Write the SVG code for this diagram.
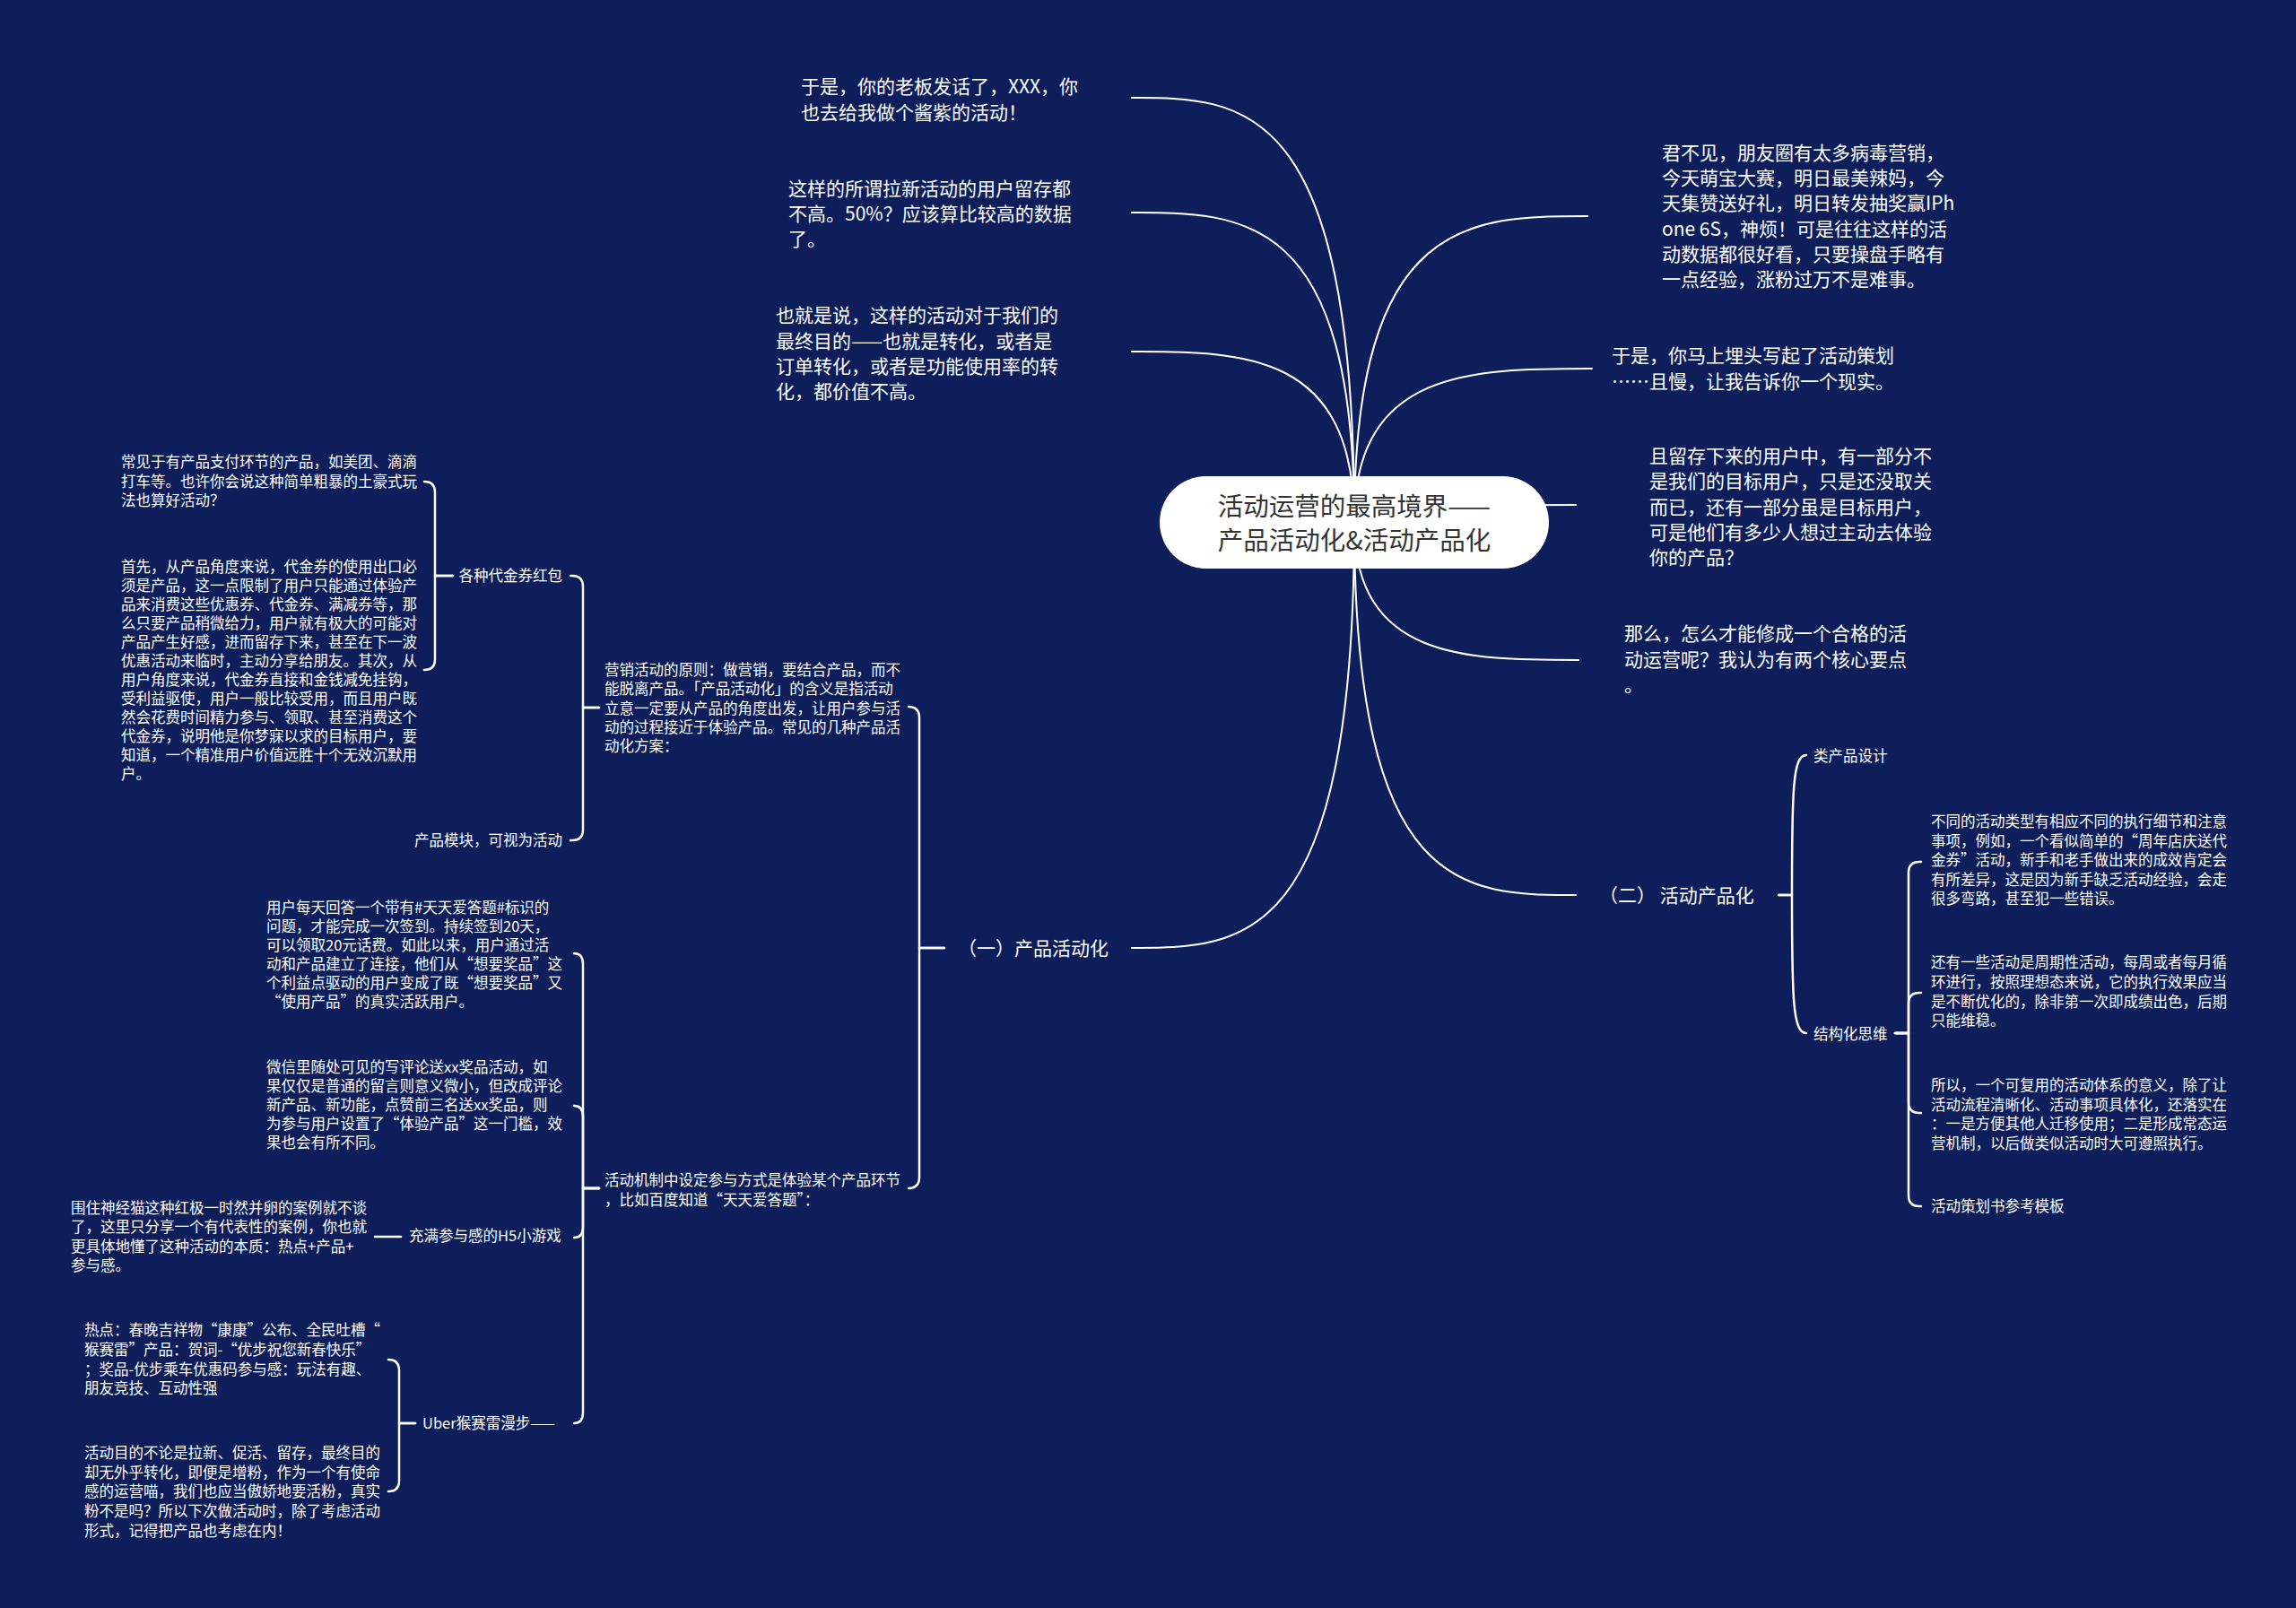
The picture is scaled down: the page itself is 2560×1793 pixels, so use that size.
<svg xmlns="http://www.w3.org/2000/svg" width="2560" height="1793" viewBox="0 0 2560 1793">
<style>
.t{font-family:"Noto Sans CJK SC","Noto Sans",sans-serif;fill:#ffffff}
.s{font-size:16.5px}
.l{font-size:21px}
.m{font-size:21px}
.c{font-family:"Noto Sans CJK SC","Noto Sans",sans-serif;font-size:28.5px;fill:#333333;text-anchor:middle}
.ln{fill:none;stroke:#ffffff;stroke-width:2.5;stroke-linecap:round;stroke-linejoin:round}
.mn{fill:none;stroke:#ffffff;stroke-width:2;stroke-linecap:round}
</style>
<rect width="2560" height="1793" fill="#0d1e5a"/>
<g id="connectors">
<path class="mn" d="M1510 582 C1510 109 1386 109 1262 109"/>
<path class="mn" d="M1510 582 C1510 237 1386 237 1262 237"/>
<path class="mn" d="M1510 582 C1510 392 1386 392 1262 392"/>
<path class="mn" d="M1510 582 C1510 1057 1386 1057 1262 1057"/>
<path class="mn" d="M1510 582 C1510 241 1640 241 1770 241"/>
<path class="mn" d="M1510 582 C1510 411 1642 411 1775 411"/>
<path class="mn" d="M1510 582 C1510 563 1633 563 1757 563"/>
<path class="mn" d="M1510 582 C1510 736 1635 736 1760 736"/>
<path class="mn" d="M1510 582 C1510 998 1633 998 1757 998"/>
<path class="ln" d="M1053 1057 H1025 V800 Q1025 788 1013 788"/>
<path class="ln" d="M1053 1057 H1025 V1313 Q1025 1325 1013 1325"/>
<path class="ln" d="M668 789 H650 V654 Q650 642 638 642 H636"/>
<path class="ln" d="M668 789 H650 V925 Q650 937 638 937 H636"/>
<path class="ln" d="M505 642 H485 V549 Q485 537 473 537"/>
<path class="ln" d="M505 642 H485 V735 Q485 747 473 747"/>
<path class="ln" d="M668 1325 H650 V1075 Q650 1063 640 1063"/>
<path class="ln" d="M668 1325 H650 V1245 Q650 1233 640 1233"/>
<path class="ln" d="M668 1325 H650 V1368 Q650 1380 640 1380"/>
<path class="ln" d="M668 1325 H650 V1575 Q650 1587 640 1587"/>
<path class="ln" d="M447 1379 H418"/>
<path class="ln" d="M463 1587 H445 V1528 Q445 1516 433 1516"/>
<path class="ln" d="M463 1587 H445 V1651 Q445 1663 433 1663"/>
<path class="ln" d="M1983 998 H1998 C1998 880 1999 842 2014 842"/>
<path class="ln" d="M1983 998 H1998 C1998 1114 1999 1152 2014 1152"/>
<path class="ln" d="M2113 1152 H2128 V973 Q2128 961 2140 961 H2142"/>
<path class="ln" d="M2113 1152 H2128 V1119 Q2128 1107 2140 1107 H2142"/>
<path class="ln" d="M2113 1152 H2128 V1229 Q2128 1241 2140 1241 H2142"/>
<path class="ln" d="M2113 1152 H2128 V1333 Q2128 1345 2140 1345 H2142"/>
</g>
<g id="root">
<rect x="1293" y="531" width="434" height="103" rx="51.5" fill="#ffffff"/>
<text class="c"><tspan x="1510" y="575">活动运营的最高境界——</tspan><tspan x="1510" y="613">产品活动化&amp;活动产品化</tspan></text>
</g>
<g id="n-boss">
<text class="t l"><tspan x="893" y="104">于是，你的老板发话了，XXX，你</tspan><tspan x="893" y="132.5">也去给我做个酱紫的活动！</tspan></text>
</g>
<g id="n-retention">
<text class="t l"><tspan x="879" y="217.5">这样的所谓拉新活动的用户留存都</tspan><tspan x="879" y="246">不高。50%？应该算比较高的数据</tspan><tspan x="879" y="274">了。</tspan></text>
</g>
<g id="n-goal">
<text class="t l"><tspan x="865" y="359">也就是说，这样的活动对于我们的</tspan><tspan x="865" y="387.5">最终目的——也就是转化，或者是</tspan><tspan x="865" y="416">订单转化，或者是功能使用率的转</tspan><tspan x="865" y="444">化，都价值不高。</tspan></text>
</g>
<g id="n-viral">
<text class="t l"><tspan x="1853" y="177.5">君不见，朋友圈有太多病毒营销，</tspan><tspan x="1853" y="206">今天萌宝大赛，明日最美辣妈，今</tspan><tspan x="1853" y="234">天集赞送好礼，明日转发抽奖赢IPh</tspan><tspan x="1853" y="262.5">one 6S，神烦！可是往往这样的活</tspan><tspan x="1853" y="291">动数据都很好看，只要操盘手略有</tspan><tspan x="1853" y="319">一点经验，涨粉过万不是难事。</tspan></text>
</g>
<g id="n-plan">
<text class="t l"><tspan x="1797" y="404">于是，你马上埋头写起了活动策划</tspan><tspan x="1797" y="432.5">……且慢，让我告诉你一个现实。</tspan></text>
</g>
<g id="n-users">
<text class="t l"><tspan x="1839" y="516">且留存下来的用户中，有一部分不</tspan><tspan x="1839" y="544">是我们的目标用户，只是还没取关</tspan><tspan x="1839" y="572.5">而已，还有一部分虽是目标用户，</tspan><tspan x="1839" y="601">可是他们有多少人想过主动去体验</tspan><tspan x="1839" y="629">你的产品？</tspan></text>
</g>
<g id="n-how">
<text class="t l"><tspan x="1811" y="714">那么，怎么才能修成一个合格的活</tspan><tspan x="1811" y="742.5">动运营呢？我认为有两个核心要点</tspan><tspan x="1811" y="771">。</tspan></text>
</g>
<g id="n-part1">
<text class="t m" x="1068" y="1064.5">（一）产品活动化</text>
</g>
<g id="n-principle">
<text class="t s"><tspan x="674" y="753">营销活动的原则：做营销，要结合产品，而不</tspan><tspan x="674" y="774.3">能脱离产品。「产品活动化」的含义是指活动</tspan><tspan x="674" y="795.5">立意一定要从产品的角度出发，让用户参与活</tspan><tspan x="674" y="816.8">动的过程接近于体验产品。常见的几种产品活</tspan><tspan x="674" y="838">动化方案：</tspan></text>
</g>
<g id="n-coupon">
<text class="t s" x="511.5" y="648">各种代金券红包</text>
</g>
<g id="n-coupon-a">
<text class="t s"><tspan x="135" y="521">常见于有产品支付环节的产品，如美团、滴滴</tspan><tspan x="135" y="542.7">打车等。也许你会说这种简单粗暴的土豪式玩</tspan><tspan x="135" y="564.3">法也算好活动？</tspan></text>
</g>
<g id="n-coupon-b">
<text class="t s"><tspan x="135" y="637.7">首先，从产品角度来说，代金券的使用出口必</tspan><tspan x="135" y="658.7">须是产品，这一点限制了用户只能通过体验产</tspan><tspan x="135" y="679.7">品来消费这些优惠券、代金券、满减券等，那</tspan><tspan x="135" y="700.7">么只要产品稍微给力，用户就有极大的可能对</tspan><tspan x="135" y="721.7">产品产生好感，进而留存下来，甚至在下一波</tspan><tspan x="135" y="742.7">优惠活动来临时，主动分享给朋友。其次，从</tspan><tspan x="135" y="763.7">用户角度来说，代金券直接和金钱减免挂钩，</tspan><tspan x="135" y="784.7">受利益驱使，用户一般比较受用，而且用户既</tspan><tspan x="135" y="805.7">然会花费时间精力参与、领取、甚至消费这个</tspan><tspan x="135" y="826.7">代金券，说明他是你梦寐以求的目标用户，要</tspan><tspan x="135" y="847.7">知道，一个精准用户价值远胜十个无效沉默用</tspan><tspan x="135" y="868.7">户。</tspan></text>
</g>
<g id="n-module">
<text class="t s" x="462" y="943">产品模块，可视为活动</text>
</g>
<g id="n-mechanism">
<text class="t s"><tspan x="674" y="1322">活动机制中设定参与方式是体验某个产品环节</tspan><tspan x="674" y="1344">，比如百度知道“天天爱答题”：</tspan></text>
</g>
<g id="n-daily">
<text class="t s"><tspan x="297" y="1018">用户每天回答一个带有#天天爱答题#标识的</tspan><tspan x="297" y="1039">问题，才能完成一次签到。持续签到20天，</tspan><tspan x="297" y="1060">可以领取20元话费。如此以来，用户通过活</tspan><tspan x="297" y="1081">动和产品建立了连接，他们从“想要奖品”这</tspan><tspan x="297" y="1102">个利益点驱动的用户变成了既“想要奖品”又</tspan><tspan x="297" y="1123">“使用产品”的真实活跃用户。</tspan></text>
</g>
<g id="n-wechat">
<text class="t s"><tspan x="297" y="1196">微信里随处可见的写评论送xx奖品活动，如</tspan><tspan x="297" y="1217">果仅仅是普通的留言则意义微小，但改成评论</tspan><tspan x="297" y="1238">新产品、新功能，点赞前三名送xx奖品，则</tspan><tspan x="297" y="1259">为参与用户设置了“体验产品”这一门槛，效</tspan><tspan x="297" y="1280">果也会有所不同。</tspan></text>
</g>
<g id="n-h5">
<text class="t s" x="456" y="1384">充满参与感的H5小游戏</text>
</g>
<g id="n-cat">
<text class="t s"><tspan x="79" y="1353">围住神经猫这种红极一时然并卵的案例就不谈</tspan><tspan x="79" y="1374.3">了，这里只分享一个有代表性的案例，你也就</tspan><tspan x="79" y="1395.6">更具体地懂了这种活动的本质：热点+产品+</tspan><tspan x="79" y="1417">参与感。</tspan></text>
</g>
<g id="n-uber">
<text class="t s" x="471" y="1593">Uber猴赛雷漫步——</text>
</g>
<g id="n-hot">
<text class="t s"><tspan x="94" y="1489.3">热点：春晚吉祥物“康康”公布、全民吐槽“</tspan><tspan x="94" y="1511">猴赛雷”产品：贺词-“优步祝您新春快乐”</tspan><tspan x="94" y="1532.7">；奖品-优步乘车优惠码参与感：玩法有趣、</tspan><tspan x="94" y="1554.3">朋友竞技、互动性强</tspan></text>
</g>
<g id="n-purpose">
<text class="t s"><tspan x="94" y="1626">活动目的不论是拉新、促活、留存，最终目的</tspan><tspan x="94" y="1647.7">却无外乎转化，即便是增粉，作为一个有使命</tspan><tspan x="94" y="1669.3">感的运营喵，我们也应当傲娇地要活粉，真实</tspan><tspan x="94" y="1691">粉不是吗？所以下次做活动时，除了考虑活动</tspan><tspan x="94" y="1712.7">形式，记得把产品也考虑在内！</tspan></text>
</g>
<g id="n-part2">
<text class="t m" x="1783" y="1005.5">（二） 活动产品化</text>
</g>
<g id="n-design">
<text class="t s" x="2022" y="849">类产品设计</text>
</g>
<g id="n-structure">
<text class="t s" x="2022" y="1159">结构化思维</text>
</g>
<g id="n-types">
<text class="t s"><tspan x="2153" y="922">不同的活动类型有相应不同的执行细节和注意</tspan><tspan x="2153" y="943.7">事项，例如，一个看似简单的“周年店庆送代</tspan><tspan x="2153" y="965.3">金券”活动，新手和老手做出来的成效肯定会</tspan><tspan x="2153" y="986.7">有所差异，这是因为新手缺乏活动经验，会走</tspan><tspan x="2153" y="1007.7">很多弯路，甚至犯一些错误。</tspan></text>
</g>
<g id="n-cycle">
<text class="t s"><tspan x="2153" y="1079.3">还有一些活动是周期性活动，每周或者每月循</tspan><tspan x="2153" y="1101">环进行，按照理想态来说，它的执行效果应当</tspan><tspan x="2153" y="1122.7">是不断优化的，除非第一次即成绩出色，后期</tspan><tspan x="2153" y="1144.3">只能维稳。</tspan></text>
</g>
<g id="n-reuse">
<text class="t s"><tspan x="2153" y="1216">所以，一个可复用的活动体系的意义，除了让</tspan><tspan x="2153" y="1237.7">活动流程清晰化、活动事项具体化，还落实在</tspan><tspan x="2153" y="1259.3">：一是方便其他人迁移使用；二是形成常态运</tspan><tspan x="2153" y="1281">营机制，以后做类似活动时大可遵照执行。</tspan></text>
</g>
<g id="n-template">
<text class="t s" x="2153" y="1351">活动策划书参考模板</text>
</g>
</svg>
